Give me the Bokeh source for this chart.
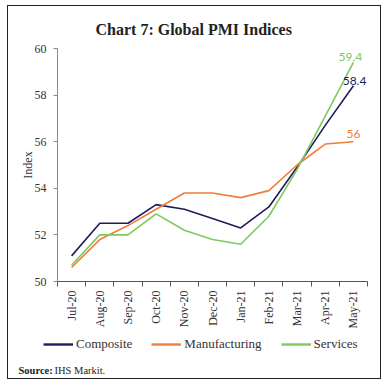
import math
from bokeh.plotting import figure
from bokeh.layouts import column
from bokeh.models import (FixedTicker, Range1d, Legend, LegendItem, Label)
from bokeh.embed import file_html
from bokeh.resources import INLINE

months = ["Jul-20", "Aug-20", "Sep-20", "Oct-20", "Nov-20", "Dec-20",
          "Jan-21", "Feb-21", "Mar-21", "Apr-21", "May-21"]
composite = [51.1, 52.5, 52.5, 53.3, 53.1, 52.7, 52.3, 53.2, 54.9, 56.7, 58.4]
manufacturing = [50.6, 51.8, 52.4, 53.1, 53.8, 53.8, 53.6, 53.9, 55.0, 55.9, 56.0]
services = [50.7, 52.0, 52.0, 52.9, 52.2, 51.8, 51.6, 52.8, 54.8, 57.1, 59.4]
y_ticks = [50, 52, 54, 56, 58, 60]
series_names = ["Composite", "Manufacturing", "Services"]

SERIF = "Liberation Serif"
NAVY = "#1f1c5c"
ORANGE = "#f07d3a"
GREEN = "#7dc95e"
COLORS = [NAVY, ORANGE, GREEN]
SERIES = [composite, manufacturing, services]

xs = list(range(len(months)))

# ---------------- main chart ----------------
p = figure(width=372, height=325, output_backend="svg", toolbar_location=None,
           x_range=Range1d(-0.5, len(months) - 0.5), y_range=Range1d(50, 60),
           min_border_left=49, min_border_right=13, min_border_top=42,
           min_border_bottom=46)
p.outline_line_color = None
p.xgrid.visible = False
p.ygrid.visible = False
p.background_fill_color = "white"
p.border_fill_color = "white"

p.title.text = "Chart 7: Global PMI Indices"
p.title.align = "left"
p.title.offset = 38
p.title.standoff = 21
p.title.text_font = SERIF
p.title.text_font_size = "16px"
p.title.text_font_style = "bold"
p.title.text_color = "#222222"

for vals, col in zip(SERIES, COLORS):
    p.line(xs, vals, line_color=col, line_width=1.6)

last = len(months) - 1
for val, col, xo, yo, al in [(services[-1], GREEN, -3, 1, "center"),
                             (composite[-1], NAVY, 13, 1, "right"),
                             (manufacturing[-1], ORANGE, 0, 4, "center")]:
    p.add_layout(Label(x=last, y=val, text=f"{val:g}", text_color=col,
                       x_offset=xo, y_offset=yo, text_align=al,
                       text_baseline="bottom", text_font="Lato",
                       text_font_size="12px"))

xt = FixedTicker(ticks=xs, minor_ticks=[i - 0.5 for i in range(len(months) + 1)])
p.xaxis.ticker = xt
p.xaxis.major_label_overrides = {i: m for i, m in enumerate(months)}
p.xaxis.major_label_orientation = math.pi / 2
p.xaxis.major_tick_line_color = None
p.xaxis.minor_tick_out = 5
p.xaxis.minor_tick_in = 0
p.xaxis.minor_tick_line_color = "#555555"
p.xaxis.axis_line_color = "#555555"
p.xaxis.major_label_text_font = SERIF
p.xaxis.major_label_text_font_size = "12px"
p.xaxis.major_label_text_color = "#333333"
p.xaxis.major_label_standoff = 3

p.yaxis.ticker = FixedTicker(ticks=y_ticks, minor_ticks=[])
p.yaxis.axis_line_color = "#888888"
p.yaxis.major_tick_line_color = "#888888"
p.yaxis.major_tick_out = 4
p.yaxis.major_tick_in = 0
p.yaxis.major_label_standoff = 7
p.yaxis.major_label_text_font = SERIF
p.yaxis.major_label_text_font_size = "12px"
p.yaxis.major_label_text_color = "#333333"
p.yaxis.axis_label = "Index"
p.yaxis.axis_label_text_font = SERIF
p.yaxis.axis_label_text_font_style = "normal"
p.yaxis.axis_label_text_font_size = "12px"
p.yaxis.axis_label_text_color = "#333333"
p.yaxis.axis_label_standoff = -3

# ---------------- legend + source strip ----------------
q = figure(width=372, height=47, output_backend="svg", toolbar_location=None,
           x_range=Range1d(0, 372), y_range=Range1d(0, 47),
           x_axis_type=None, y_axis_type=None, min_border=0)
q.outline_line_color = None
q.xgrid.visible = False
q.ygrid.visible = False
q.border_fill_color = "white"
q.background_fill_color = "white"
for fig in (p, q):
    if "frame_align" in fig.properties():
        fig.frame_align = False

# legend proxies: the same series, lying outside this strip's visible range
proxies = [q.line(xs, vals, line_color=col, line_width=2.4)
           for vals, col in zip(SERIES, COLORS)]
legend = Legend(items=[LegendItem(label=n, renderers=[r])
                       for n, r in zip(series_names, proxies)],
                orientation="horizontal", location=(35, 26),
                glyph_width=30, glyph_height=14, label_standoff=3, spacing=19,
                padding=0, margin=0, border_line_color=None,
                background_fill_alpha=0,
                label_text_font=SERIF, label_text_font_size="13px",
                label_text_color="#333333")
q.add_layout(legend, "center")

q.add_layout(Label(x=10, y=8, x_units="screen", y_units="screen",
                   text="Source:", text_baseline="alphabetic", text_font=SERIF,
                   text_font_size="10.5px", text_font_style="bold",
                   text_color="#222222"))
q.add_layout(Label(x=46, y=8, x_units="screen", y_units="screen",
                   text="IHS Markit.", text_baseline="alphabetic",
                   text_font=SERIF, text_font_size="10.5px",
                   text_color="#222222"))

layout = column(p, q, spacing=0,
                styles={"margin-left": "7px", "margin-top": "5px",
                        "border": "1px solid #222222"})

open("out.html", "w").write(file_html(layout, INLINE))
